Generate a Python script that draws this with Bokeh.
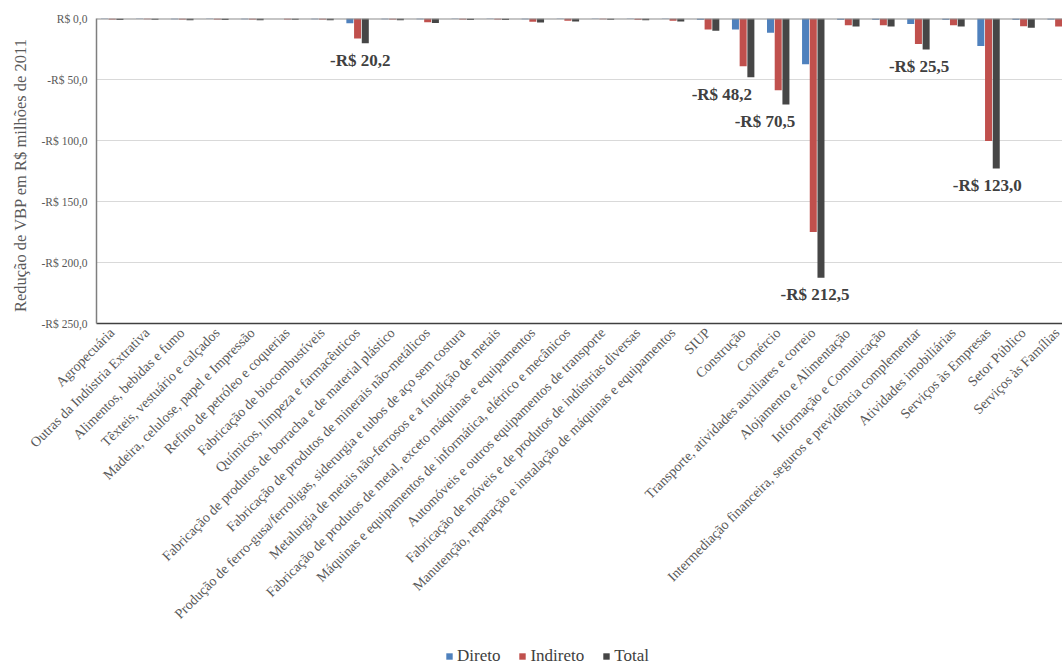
from math import pi
from bokeh.plotting import figure
from bokeh.layouts import column
from bokeh.models import (ColumnDataSource, Range1d, FixedTicker, Span, Legend,
                          LegendItem, LabelSet)
from bokeh.transform import dodge
from bokeh.core.properties import value
from bokeh.embed import file_html
from bokeh.resources import INLINE

categorias = [
    "Agropecuária",
    "Outras da Indústria Extrativa",
    "Alimentos, bebidas e fumo",
    "Têxteis, vestuário e calçados",
    "Madeira, celulose, papel e Impressão",
    "Refino de petróleo e coquerias",
    "Fabricação de biocombustíveis",
    "Químicos, limpeza e farmacêuticos",
    "Fabricação de produtos de borracha e de material plástico",
    "Fabricação de produtos de minerais não-metálicos",
    "Produção de ferro-gusa/ferroligas, siderurgia e tubos de aço sem costura",
    "Metalurgia de metais não-ferrosos e a fundição de metais",
    "Fabricação de produtos de metal, exceto máquinas e equipamentos",
    "Máquinas e equipamentos de informática, elétrico e mecânicos",
    "Automóveis e outros equipamentos de transporte",
    "Fabricação de móveis e de produtos de indústrias diversas",
    "Manutenção, reparação e instalação de máquinas e equipamentos",
    "SIUP",
    "Construção",
    "Comércio",
    "Transporte, atividades auxiliares e correio",
    "Alojamento e Alimentação",
    "Informação e Comunicação",
    "Intermediação financeira, seguros e previdência complementar",
    "Atividades imobiliárias",
    "Serviços às Empresas",
    "Setor Público",
    "Serviços às Famílias",
]

series = ["Direto", "Indireto", "Total"]
direto = [-0.5, -0.4, -0.6, -0.5, -0.6, -0.1, -0.6, -3.8, -0.6, -0.6, -0.5, -0.5, -0.6, -0.5,
          -0.4, -0.5, -0.5, -1.0, -9.0, -11.7, -37.5, -1.0, -1.0, -4.5, -1.0, -22.5, -1.0, -0.8]
indireto = [-0.8, -0.7, -0.8, -0.8, -0.8, -0.9, -0.8, -16.4, -0.8, -3.0, -0.8, -0.8, -2.7, -1.9,
            -0.7, -1.0, -1.9, -9.0, -39.2, -58.8, -175.0, -5.5, -5.5, -21.0, -5.6, -100.5, -6.3, -6.5]
total = [-1.3, -1.1, -1.4, -1.3, -1.4, -1.0, -1.4, -20.2, -1.4, -3.6, -1.3, -1.3, -3.3, -2.4,
         -1.1, -1.5, -2.4, -10.0, -48.2, -70.5, -212.5, -6.5, -6.5, -25.5, -6.6, -123.0, -7.6, -7.3]

y_ticks = [0, -50, -100, -150, -200, -250]
y_tick_labels = ["R$ 0,0", "-R$ 50,0", "-R$ 100,0", "-R$ 150,0", "-R$ 200,0", "-R$ 250,0"]

rotulos_idx = [7, 18, 19, 20, 23, 25]
rotulos_nudge = [-5, -29, -21, -6, -7, -9]   # horizontal px nudges (style)

COLORS = ["#4F81BD", "#C0504D", "#464646"]
SERIF = "Liberation Serif"
GRAY_TXT = "#595959"

idx = list(range(len(categorias)))
src = ColumnDataSource(dict(idx=idx, direto=direto, indireto=indireto, total=total))

W = 1062
p = figure(width=W, height=644, output_backend="svg", toolbar_location=None,
           x_range=Range1d(-0.448, 27.11), y_range=Range1d(-250, 0),
           min_border_left=96, min_border_right=0, min_border_top=18, min_border_bottom=321)
p.outline_line_color = None
p.background_fill_color = "white"

bw = 0.2
for col, off, color in zip(["direto", "indireto", "total"], [-0.22, 0.0, 0.22], COLORS):
    p.vbar(x=dodge("idx", off, range=p.x_range), top=col, bottom=0, width=bw,
           source=src, fill_color=color, line_color=None)

# annotations
lab_src = ColumnDataSource(dict(
    x=[i + 0.22 for i in rotulos_idx],
    y=[total[i] for i in rotulos_idx],
    nudge=rotulos_nudge,
    txt=["-R$ " + ("%.1f" % abs(total[i])).replace(".", ",") for i in rotulos_idx],
))
labels = LabelSet(x="x", y="y", text="txt", source=lab_src, x_offset="nudge", y_offset=-17,
                  text_align="center", text_baseline="middle",
                  text_font=value(SERIF), text_font_size="17px", text_font_style="bold",
                  text_color="#404040")
p.add_layout(labels)

# zero line at top
p.add_layout(Span(location=0, dimension="width", line_color="#8c8c8c", line_width=2))

# grid
p.xgrid.visible = False
p.ygrid.ticker = FixedTicker(ticks=y_ticks)
p.ygrid.grid_line_color = "#d9d9d9"
p.ygrid.grid_line_width = 1

# y axis
p.yaxis.ticker = FixedTicker(ticks=y_ticks)
p.yaxis.major_label_overrides = {t: l for t, l in zip(y_ticks, y_tick_labels)}
p.yaxis.major_tick_line_color = None
p.yaxis.major_tick_out = 0
p.yaxis.major_tick_in = 0
p.yaxis.minor_tick_line_color = None
p.yaxis.minor_tick_out = 0
p.yaxis.axis_line_color = "#7f7f7f"
p.yaxis.axis_line_width = 1.5
p.yaxis.major_label_text_font = SERIF
p.yaxis.major_label_text_font_size = "11.5px"
p.yaxis.major_label_text_color = GRAY_TXT
p.yaxis.major_label_standoff = 9
p.yaxis.axis_label = "Redução  de VBP em R$ milhões  de 2011"
p.yaxis.axis_label_text_font = SERIF
p.yaxis.axis_label_text_font_size = "16.5px"
p.yaxis.axis_label_text_font_style = "normal"
p.yaxis.axis_label_text_color = GRAY_TXT
p.yaxis.axis_label_standoff = 9

# x axis
p.xaxis.ticker = FixedTicker(ticks=idx)
p.xaxis.major_label_overrides = {i: c for i, c in zip(idx, categorias)}
p.xaxis.major_label_orientation = pi / 4
p.xaxis.major_tick_line_color = None
p.xaxis.major_tick_out = 0
p.xaxis.major_tick_in = 0
p.xaxis.minor_tick_line_color = None
p.xaxis.minor_tick_out = 0
p.xaxis.axis_line_color = "#404040"
p.xaxis.axis_line_width = 1.5
p.xaxis.major_label_text_font = SERIF
p.xaxis.major_label_text_font_size = "14px"
p.xaxis.major_label_text_color = GRAY_TXT
p.xaxis.major_label_standoff = 7

# legend strip (separate small figure below the chart)
pl = figure(width=W, height=22, output_backend="svg", toolbar_location=None,
            x_range=Range1d(0, 1), y_range=Range1d(0, 1),
            x_axis_type=None, y_axis_type=None,
            min_border_left=0, min_border_right=0, min_border_top=0, min_border_bottom=0)
pl.grid.visible = False
pl.outline_line_color = None
dummy = ColumnDataSource(dict(x=[-5.0], top=[-5.0]))
items = []
for name, color in zip(series, COLORS):
    r = pl.vbar(x="x", top="top", bottom=-5.0, width=0.1, source=dummy,
                fill_color=color, line_color=None)
    items.append(LegendItem(label=name, renderers=[r]))
legend = Legend(items=items, orientation="horizontal", location=(349, 0))
legend.label_text_font = SERIF
legend.label_text_font_size = "17px"
legend.label_text_color = "#404040"
legend.glyph_width = 8
legend.glyph_height = 8
legend.label_standoff = 4
legend.spacing = 18
legend.padding = 0
legend.margin = 0
legend.border_line_color = None
legend.background_fill_alpha = 0
pl.add_layout(legend)

layout = column(p, pl, spacing=0)
open("out.html", "w").write(file_html(layout, INLINE))
